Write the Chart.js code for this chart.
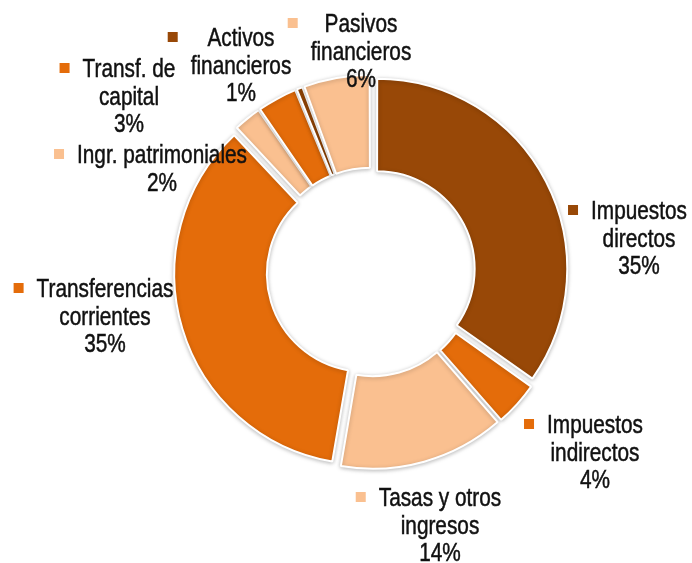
<!DOCTYPE html>
<html lang="es">
<head>
    <meta charset="UTF-8">
    <title>Ingresos por capítulos</title>
    <script src="https://cdn.jsdelivr.net/npm/chart.js"></script>
    <style>
        html, body { margin: 0; padding: 0; background: #fff; }
        #wrap { width: 692px; height: 563px; }
    </style>
</head>
<body>
<div id="wrap"><canvas id="donut" width="692" height="563"></canvas></div>
<script>
    // Categorías (en sentido horario desde las 12)
    const categories = [
        'Impuestos directos', 'Impuestos indirectos', 'Tasas y otros ingresos',
        'Transferencias corrientes', 'Ingr. patrimoniales', 'Transf. de capital',
        'Activos financieros', 'Pasivos financieros'
    ];
    // Peso de cada capítulo (%)
    const shares = [34.8, 3.8, 14.1, 35.3, 2.4, 3.4, 0.6, 5.6];

    // Texto de las etiquetas, partido en líneas como en el original
    const labelLines = [
        ['Impuestos', 'directos'],
        ['Impuestos', 'indirectos'],
        ['Tasas y otros', 'ingresos'],
        ['Transferencias', 'corrientes'],
        ['Ingr. patrimoniales'],
        ['Transf. de', 'capital'],
        ['Activos', 'financieros'],
        ['Pasivos', 'financieros']
    ];

    const DARK = '#984807', MID = '#E46C0A', LIGHT = '#FAC090';
    const sliceColors = [DARK, MID, LIGHT, MID, LIGHT, MID, DARK, LIGHT];

    // posición de cada bloque de etiqueta (centro x, línea base de la 1ª línea)
    const labelAt = [
        [639, 219], [595, 433], [440, 506], [105, 297],
        [162, 163], [129, 77], [241, 46], [361, 32]
    ];

    const total = shares.reduce((a, b) => a + b, 0);

    // desplazamiento hacia fuera: Chart.js usa offset/4 + un extra en sectores pequeños
    const EXPLODE = 8;
    const sliceOffsets = shares.map(v => {
        const circ = v / total * Math.PI * 2;
        return 4 * EXPLODE / (2 - Math.sin(Math.min(Math.PI, circ)));
    });

    const outsideLabels = {
        id: 'outsideLabels',
        afterDraw(chart) {
            const ctx = chart.ctx;
            const sx = 0.8; // letra estrecha
            ctx.save();
            ctx.font = '26px "Liberation Sans", Arial, sans-serif';
            ctx.textAlign = 'center';
            ctx.textBaseline = 'alphabetic';
            labelLines.forEach((lines, i) => {
                const pct = Math.round(shares[i] * 100 / total) + '%';
                const all = lines.concat([pct]);
                const [cx, by] = labelAt[i];
                const w = Math.max(...all.map(t => ctx.measureText(t).width)) * sx;
                ctx.fillStyle = sliceColors[i];
                ctx.fillRect(cx - w / 2 - 13 - 10, by - 14, 10, 10);
                ctx.fillStyle = '#111111';
                ctx.strokeStyle = '#111111';
                ctx.lineWidth = 0.5;
                ctx.save();
                ctx.scale(sx, 1);
                all.forEach((t, k) => {
                    ctx.fillText(t, cx / sx, by + k * 27.5);
                    ctx.strokeText(t, cx / sx, by + k * 27.5);
                });
                ctx.restore();
            });
            ctx.restore();
        }
    };

    const softShadow = {
        id: 'softShadow',
        beforeDatasetsDraw(chart) {
            const ctx = chart.ctx;
            ctx.save();
            ctx.shadowColor = 'rgba(0,0,0,0.25)';
            ctx.shadowBlur = 4;
            ctx.shadowOffsetX = 0;
            ctx.shadowOffsetY = 1;
        },
        afterDatasetsDraw(chart) {
            chart.ctx.restore();
        }
    };

    new Chart(document.getElementById('donut'), {
        type: 'doughnut',
        data: {
            labels: categories,
            datasets: [{
                data: shares,
                backgroundColor: sliceColors,
                borderColor: '#ffffff',
                borderWidth: 2,
                offset: sliceOffsets
            }]
        },
        options: {
            responsive: false,
            animation: false,
            radius: 189,
            cutout: '51%',
            layout: { padding: { left: 50, top: 0, right: 0, bottom: 19 } },
            plugins: {
                legend: { display: false },
                tooltip: { enabled: false }
            }
        },
        plugins: [softShadow, outsideLabels]
    });
</script>
</body>
</html>
